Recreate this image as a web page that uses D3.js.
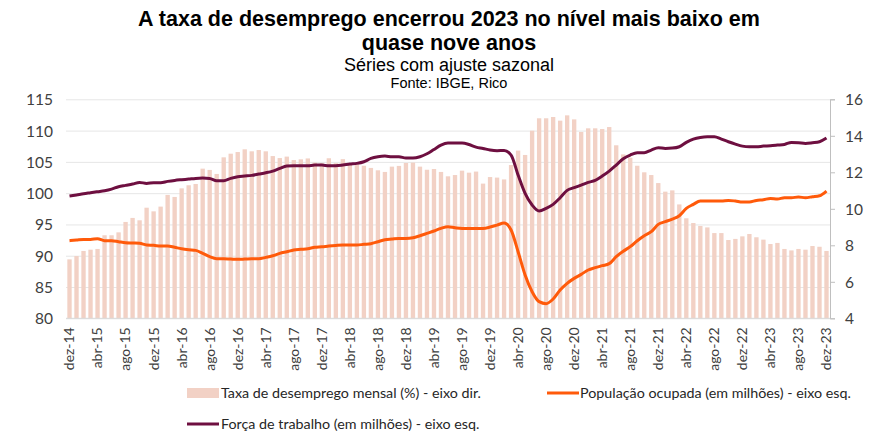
<!DOCTYPE html>
<html>
<head>
<meta charset="utf-8">
<script src="https://cdn.jsdelivr.net/npm/d3@7"></script>
<style>
  html, body { margin: 0; padding: 0; background: #fff; }
  svg { display: block; }
  .tick text { font-family: Lato, "Open Sans", sans-serif; fill: #404040; }
</style>
</head>
<body>
<div id="chart"></div>
<script>
// ---------- DATA ----------
const monthNames = ["jan","fev","mar","abr","mai","jun","jul","ago","set","out","nov","dez"];
const categories = [];
{ let m = 11, y = 14; for (let k = 0; k < 109; k++) { categories.push(monthNames[m] + "-" + y); m++; if (m === 12) { m = 0; y++; } } }

// Taxa de desemprego mensal (%) - eixo dir.
const unemployment = [
  7.23, 7.41, 7.69, 7.76, 7.80, 8.55, 8.55, 8.71, 9.28, 9.50, 9.37, 10.06,
  9.86, 10.12, 10.76, 10.65, 11.12, 11.29, 11.36, 12.20, 12.13, 11.91, 12.82, 13.02,
  13.11, 13.26, 13.15, 13.22, 13.15, 12.89, 12.78, 12.86, 12.67, 12.71, 12.76, 12.53,
  12.50, 12.77, 12.50, 12.72, 12.40, 12.44, 12.36, 12.24, 12.11, 12.02, 12.31, 12.35,
  12.51, 12.53, 12.31, 12.14, 12.18, 12.02, 11.78, 11.85, 12.09, 11.98, 12.04, 11.38,
  11.74, 11.71, 11.61, 12.40, 13.19, 12.95, 14.28, 14.96, 14.96, 15.03, 14.83, 15.12,
  14.90, 14.21, 14.41, 14.41, 14.37, 14.48, 13.48, 12.98, 12.80, 12.36, 12.00, 11.85,
  11.41, 10.94, 11.01, 10.24, 9.48, 9.22, 9.06, 8.98, 8.67, 8.67, 8.29, 8.35,
  8.49, 8.62, 8.44, 8.31, 8.07, 8.13, 7.80, 7.72, 7.80, 7.76, 7.96, 7.92, 7.69
];

// População ocupada (em milhões) - eixo esq.
const employed = [
  92.40, 92.51, 92.61, 92.61, 92.72, 92.40, 92.40, 92.24, 92.08, 92.03, 91.98, 91.71,
  91.66, 91.55, 91.55, 91.34, 91.12, 90.97, 90.86, 90.38, 89.85, 89.53, 89.53, 89.47,
  89.42, 89.47, 89.53, 89.53, 89.74, 90.00, 90.38, 90.64, 90.91, 91.02, 91.12, 91.34,
  91.42, 91.55, 91.65, 91.72, 91.72, 91.71, 91.82, 91.92, 92.24, 92.56, 92.67, 92.77,
  92.77, 92.88, 93.20, 93.57, 93.95, 94.37, 94.64, 94.48, 94.37, 94.37, 94.37, 94.37,
  94.58, 94.90, 95.22, 94.11, 90.64, 86.92, 84.25, 82.66, 82.34, 83.08, 84.52, 85.59,
  86.38, 87.02, 87.72, 88.09, 88.41, 88.73, 89.85, 90.72, 91.45, 92.40, 93.20, 93.84,
  95.01, 95.44, 95.86, 96.39, 97.57, 98.21, 98.74, 98.74, 98.74, 98.74, 98.84, 98.74,
  98.58, 98.58, 98.84, 98.95, 99.16, 99.06, 99.27, 99.27, 99.38, 99.27, 99.43, 99.59, 100.34
];

// Força de trabalho (em milhões) - eixo esq.
const laborForce = [
  99.54, 99.72, 99.91, 100.07, 100.23, 100.39, 100.65, 101.03, 101.24, 101.45, 101.72, 101.56,
  101.67, 101.67, 101.88, 102.04, 102.15, 102.25, 102.36, 102.41, 102.36, 101.98, 101.98, 102.36,
  102.62, 102.73, 102.84, 103.05, 103.26, 103.53, 103.96, 104.33, 104.38, 104.38, 104.38, 104.49,
  104.49, 104.38, 104.38, 104.49, 104.65, 104.76, 105.02, 105.55, 105.82, 105.93, 105.82, 105.82,
  105.61, 105.61, 105.82, 106.30, 106.99, 107.68, 108.00, 108.00, 108.00, 107.77, 107.36, 107.15,
  106.89, 106.78, 106.83, 106.09, 102.89, 99.96, 98.10, 97.14, 97.57, 98.21, 99.27, 100.44,
  100.87, 101.29, 101.72, 102.04, 102.73, 103.53, 104.49, 105.50, 106.09, 106.46, 106.46, 106.89,
  107.26, 107.15, 107.20, 107.42, 108.11, 108.64, 108.91, 109.01, 109.01, 108.64, 108.22, 107.84,
  107.52, 107.42, 107.42, 107.52, 107.58, 107.68, 107.79, 108.11, 108.06, 107.95, 108.06, 108.22, 108.80
];

const leftTicks = [80, 85, 90, 95, 100, 105, 110, 115];
const rightTicks = [4, 6, 8, 10, 12, 14, 16];

const titleLines = ["A taxa de desemprego encerrou 2023 no nível mais baixo em", "quase nove anos"];
const subtitle = "Séries com ajuste sazonal";
const source = "Fonte: IBGE, Rico";
const legendLabels = [
  "Taxa de desemprego mensal (%) - eixo dir.",
  "População ocupada (em milhões) - eixo esq.",
  "Força de trabalho (em milhões) - eixo esq."
];

// ---------- CHART ----------
const W = 886, H = 443;
const plot = { left: 66, right: 830, top: 99.3, bottom: 318.3 };
const colors = { bar: "#F2D1C5", employed: "#FF5A0A", labor: "#6E0F40", grid: "#E6E6E6", axis: "#BFBFBF" };

const svg = d3.select("#chart").append("svg").attr("width", W).attr("height", H);

const x = d3.scaleBand().domain(categories).range([plot.left, plot.right])
  .paddingInner(0.38).paddingOuter(0.19);
const yL = d3.scaleLinear().domain([80, 115]).range([plot.bottom, plot.top]);
const yR = d3.scaleLinear().domain([4, 16]).range([plot.bottom, plot.top]);

// gridlines
const grid = svg.append("g").attr("transform", `translate(${plot.left},0)`)
  .call(d3.axisLeft(yL).tickValues(leftTicks).tickSize(-(plot.right - plot.left)).tickFormat(""));
grid.select(".domain").remove();
grid.selectAll("line").attr("stroke", colors.grid).attr("stroke-width", 1);

// bars
svg.append("g").selectAll("rect").data(unemployment).join("rect")
  .attr("x", (d, i) => x(categories[i]))
  .attr("width", x.bandwidth())
  .attr("y", d => yR(d))
  .attr("height", d => yR(4) - yR(d))
  .attr("fill", colors.bar);

// bottom baseline
svg.append("line").attr("x1", plot.left).attr("x2", plot.right)
  .attr("y1", plot.bottom).attr("y2", plot.bottom)
  .attr("stroke", "#D9D9D9").attr("stroke-width", 1);

// left axis
const gL = svg.append("g").attr("transform", `translate(${plot.left},0)`)
  .call(d3.axisLeft(yL).tickValues(leftTicks).tickSize(0).tickPadding(13));
gL.select(".domain").remove();
gL.selectAll("text").style("font-size", "15.5px").attr("dy", "0.35em");

// right axis
const gR = svg.append("g").attr("transform", `translate(${plot.right},0)`)
  .call(d3.axisRight(yR).tickValues(rightTicks).tickSize(5).tickPadding(10));
gR.select(".domain").attr("stroke", colors.axis);
gR.selectAll("line").attr("stroke", colors.axis);
gR.selectAll("text").style("font-size", "15.5px").attr("dy", "0.35em");

// bottom axis
const xTicks = categories.filter((d, i) => i % 4 === 0);
const gB = svg.append("g").attr("transform", `translate(0,${plot.bottom})`)
  .call(d3.axisBottom(x).tickValues(xTicks).tickSize(0).tickPadding(0));
gB.select(".domain").remove();
gB.selectAll("text")
  .style("font-size", "14px")
  .attr("text-anchor", "end")
  .attr("transform", "rotate(-90)")
  .attr("x", -9)
  .attr("y", 0)
  .attr("dy", "0.35em");

// lines
const line = (arr) => d3.line()
  .x((d, i) => x(categories[i]) + x.bandwidth() / 2)
  .y(d => yL(d))
  .curve(d3.curveMonotoneX)(arr);

svg.append("path").attr("d", line(employed)).attr("fill", "none")
  .attr("stroke", colors.employed).attr("stroke-width", 3).attr("stroke-linejoin", "round");
svg.append("path").attr("d", line(laborForce)).attr("fill", "none")
  .attr("stroke", colors.labor).attr("stroke-width", 3).attr("stroke-linejoin", "round");

// titles
const tfont = '"Liberation Sans", Arial, sans-serif';
svg.append("text").attr("x", 449).attr("y", 26).attr("text-anchor", "middle")
  .style("font-family", tfont).style("font-size", "21.5px").style("font-weight", "bold").attr("fill", "#000")
  .text(titleLines[0]);
svg.append("text").attr("x", 449).attr("y", 50).attr("text-anchor", "middle")
  .style("font-family", tfont).style("font-size", "21.5px").style("font-weight", "bold").attr("fill", "#000")
  .text(titleLines[1]);
svg.append("text").attr("x", 449).attr("y", 71).attr("text-anchor", "middle")
  .style("font-family", tfont).style("font-size", "18px").attr("fill", "#000")
  .text(subtitle);
svg.append("text").attr("x", 449).attr("y", 88).attr("text-anchor", "middle")
  .style("font-family", tfont).style("font-size", "14.5px").attr("fill", "#000")
  .text(source);

// legend
const lfont = 'Lato, "Open Sans", sans-serif';
const leg = svg.append("g");
// item 1: bar
leg.append("rect").attr("x", 187).attr("y", 388).attr("width", 32).attr("height", 10).attr("fill", colors.bar);
leg.append("text").attr("x", 221).attr("y", 393).attr("dy", "0.35em")
  .style("font-family", lfont).style("font-size", "14.3px").attr("fill", "#262626").text(legendLabels[0]);
// item 2: employed
leg.append("line").attr("x1", 547).attr("x2", 579).attr("y1", 393).attr("y2", 393)
  .attr("stroke", colors.employed).attr("stroke-width", 3);
leg.append("text").attr("x", 580).attr("y", 393).attr("dy", "0.35em")
  .style("font-family", lfont).style("font-size", "14.3px").attr("fill", "#262626").text(legendLabels[1]);
// item 3: labor force
leg.append("line").attr("x1", 187).attr("x2", 219).attr("y1", 424).attr("y2", 424)
  .attr("stroke", colors.labor).attr("stroke-width", 3);
leg.append("text").attr("x", 221).attr("y", 424).attr("dy", "0.35em")
  .style("font-family", lfont).style("font-size", "14.3px").attr("fill", "#262626").text(legendLabels[2]);
</script>
</body>
</html>
